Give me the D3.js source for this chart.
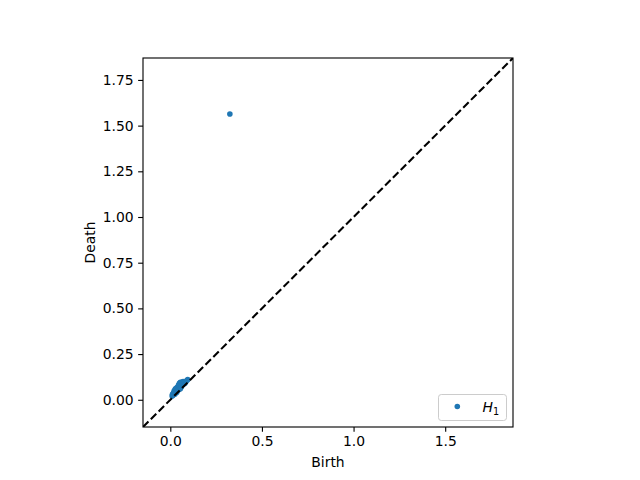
<!DOCTYPE html>
<html><head><meta charset="utf-8">
<script src="https://cdn.jsdelivr.net/npm/d3@7"></script>
<style>body{margin:0;background:#fff}svg{display:block}text{font-family:"DejaVu Sans",sans-serif}</style>
</head><body>
<svg id="c" width="640" height="480"></svg>
<script>
const births = [0.325,0.010,0.012,0.015,0.018,0.020,0.022,0.025,0.028,0.030,0.032,0.035,0.038,0.040,0.042,0.045,0.048,0.050,0.052,0.055,0.058,0.060,0.062,0.065,0.068,0.070,0.072,0.075,0.080,0.085,0.090,0.095,0.025,0.035,0.045,0.055];
const deaths = [1.564,0.020,0.030,0.025,0.040,0.035,0.050,0.045,0.060,0.040,0.055,0.065,0.050,0.070,0.060,0.080,0.065,0.090,0.075,0.095,0.085,0.070,0.095,0.080,0.090,0.100,0.085,0.095,0.090,0.100,0.105,0.110,0.030,0.040,0.055,0.060];
const xTicks = [0.0,0.5,1.0,1.5];
const yTicks = [0.00,0.25,0.50,0.75,1.00,1.25,1.50,1.75];
const domain = [-0.149,1.870];
const legendLabel = "H";
const legendSub = "1";

const svg = d3.select("#c");
const L=143,R=513,T=58,B=427;
const x = d3.scaleLinear().domain(domain).range([L,R]);
const y = d3.scaleLinear().domain(domain).range([B,T]);
const blue="#1f77b4";

svg.append("defs").append("clipPath").attr("id","clip").append("rect")
  .attr("x",L).attr("y",T).attr("width",R-L).attr("height",B-T);

const g = svg.append("g").attr("clip-path","url(#clip)");
g.selectAll("circle").data(births.map((b,i)=>[b,deaths[i]])).join("circle")
  .attr("cx",d=>x(d[0])).attr("cy",d=>y(d[1])).attr("r",2.8).attr("fill",blue);
g.append("line").attr("x1",x(domain[0])).attr("y1",y(domain[0]))
  .attr("x2",x(domain[1])).attr("y2",y(domain[1]))
  .attr("stroke","#000").attr("stroke-width",2.08).attr("stroke-dasharray","7.7,3.33");

const xa = svg.append("g").attr("transform",`translate(0,${B})`)
  .call(d3.axisBottom(x).tickValues(xTicks).tickFormat(d3.format(".1f")).tickSizeInner(4.86).tickSizeOuter(0).tickPadding(4.5));
const ya = svg.append("g").attr("transform",`translate(${L},0)`)
  .call(d3.axisLeft(y).tickValues(yTicks).tickFormat(d3.format(".2f")).tickSizeInner(4.86).tickSizeOuter(0).tickPadding(4.5));
[xa,ya].forEach(a=>{a.select(".domain").remove();
  a.selectAll("line").attr("stroke","#000").attr("stroke-width",1.11);
  a.selectAll("text").attr("font-size","13.9px").attr("fill","#000").attr("font-family","DejaVu Sans");});

svg.append("rect").attr("x",L).attr("y",T).attr("width",R-L).attr("height",B-T)
  .attr("fill","none").attr("stroke","#000").attr("stroke-width",1.11);

svg.append("text").attr("x",(L+R)/2).attr("y",467).attr("text-anchor","middle")
  .attr("font-size","13.9px").text("Birth");
svg.append("text").attr("transform",`translate(95,${(T+B)/2}) rotate(-90)`).attr("text-anchor","middle")
  .attr("font-size","13.9px").text("Death");

// legend
const lg = svg.append("g");
lg.append("rect").attr("x",438.5).attr("y",394.5).attr("width",68).attr("height",26).attr("rx",2.8)
  .attr("fill","#fff").attr("fill-opacity",0.8).attr("stroke","#cccccc").attr("stroke-width",1);
lg.append("circle").attr("cx",457.3).attr("cy",406.5).attr("r",2.8).attr("fill",blue);
const t = lg.append("text").attr("x",482.5).attr("y",412).attr("font-size","13.9px");
t.append("tspan").attr("font-style","italic").text(legendLabel);
t.append("tspan").attr("font-size","9.7px").attr("dy",3).text(legendSub);
</script>
</body></html>
